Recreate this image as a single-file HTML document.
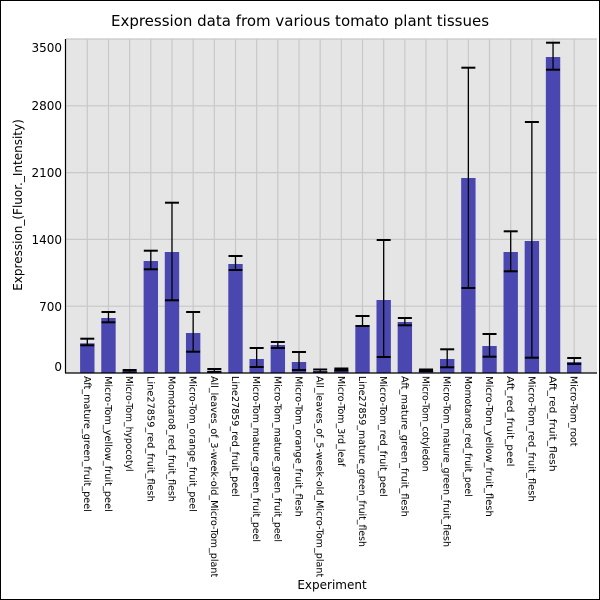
<!DOCTYPE html>
<html><head><style>html,body{margin:0;padding:0;background:#fff}svg{display:block}</style></head>
<body>
<svg width="600" height="600" xmlns="http://www.w3.org/2000/svg" font-family="DejaVu Sans, Liberation Sans, sans-serif">
<rect x="0.5" y="0.5" width="599" height="599" fill="#fff" stroke="#000" stroke-width="1"/>
<text x="300" y="26" font-size="15" text-anchor="middle">Expression data from various tomato plant tissues</text>
<rect x="66" y="39" width="531" height="334" fill="#e5e5e5"/>
<g stroke="#c8c8c8" stroke-width="1.2">
<line x1="66" x2="597" y1="39" y2="39"/><line x1="66" x2="597" y1="105.8" y2="105.8"/><line x1="66" x2="597" y1="172.6" y2="172.6"/><line x1="66" x2="597" y1="239.4" y2="239.4"/><line x1="66" x2="597" y1="306.2" y2="306.2"/>
<g id="vg"></g>
</g>
<g id="bars"></g>
<line x1="65.5" y1="39" x2="65.5" y2="373" stroke="#000" stroke-width="1.2"/>
<line x1="65" y1="373" x2="597" y2="373" stroke="#000" stroke-width="1.2"/>
<g font-size="12" text-anchor="end">
<text x="62" y="52">3500</text><text x="62" y="110">2800</text><text x="62" y="177">2100</text><text x="62" y="244">1400</text><text x="62" y="311">700</text><text x="62" y="371">0</text>
</g>
<text transform="translate(22,205) rotate(-90)" font-size="12" text-anchor="middle">Expression_(Fluor._Intensity)</text>
<text x="332" y="589" font-size="12" text-anchor="middle">Experiment</text>
<g id="labels" font-size="9.5"></g>
<script>
var ns="http://www.w3.org/2000/svg";
var d=[[343.3,338.7,345.3],[318,312,322.3],[371,370,372.5],[261,250.7,269.3],[252,202.7,300.3],[333,312,351.7],[370.7,369,372],[264,256,270],[359,348,367],[345,342,348],[362,352,370],[371,369.5,372.5],[369.5,368.5,370.5],[325,316,326],[300,240,357],[322,318,325.3],[370,369.5,371],[359,349.3,367.3],[178,67.7,288],[346,334,356.7],[252,231.3,271.3],[241,122,357.7],[57,42.7,69.7],[362,358,364]];
var L=["Aft_mature_green_fruit_peel","Micro-Tom_yellow_fruit_peel","Micro-Tom_hypocotyl","Line27859_red_fruit_flesh","Momotaro8_red_fruit_flesh","Micro-Tom_orange_fruit_peel","All_leaves_of_3-week-old_Micro-Tom_plant","Line27859_red_fruit_peel","Micro-Tom_mature_green_fruit_peel","Micro-Tom_mature_green_fruit_peel","Micro-Tom_orange_fruit_flesh","All_leaves_of_5-week-old_Micro-Tom_plant","Micro-Tom_3rd_leaf","Line27859_mature_green_fruit_flesh","Micro-Tom_red_fruit_peel","Aft_mature_green_fruit_flesh","Micro-Tom_cotyledon","Micro-Tom_mature_green_fruit_flesh","Momotaro8_red_fruit_peel","Micro-Tom_yellow_fruit_flesh","Aft_red_fruit_peel","Micro-Tom_red_fruit_flesh","Aft_red_fruit_flesh","Micro-Tom_root"];
function el(t,a,p){var e=document.createElementNS(ns,t);for(var k in a)e.setAttribute(k,a[k]);p.appendChild(e);return e;}
var vg=document.getElementById("vg"),bars=document.getElementById("bars"),lab=document.getElementById("labels");
for(var i=0;i<24;i++){var x=87.3+i*21.17;
el("line",{x1:x,x2:x,y1:39,y2:373},vg);
el("rect",{x:x-7.2,y:d[i][0],width:14.4,height:373-d[i][0],fill:"#4b47b1"},bars);
el("line",{x1:x,x2:x,y1:d[i][1],y2:d[i][2],stroke:"#000","stroke-width":1.3},bars);
el("line",{x1:x-7,x2:x+7,y1:d[i][1],y2:d[i][1],stroke:"#000","stroke-width":2},bars);
el("line",{x1:x-7,x2:x+7,y1:d[i][2],y2:d[i][2],stroke:"#000","stroke-width":2},bars);
var t=el("text",{transform:"translate("+(x-3.5)+",376) rotate(90)",textLength:(L[i].length*5.03).toFixed(1),lengthAdjust:"spacingAndGlyphs"},lab);
t.textContent=L[i];}
</script>
</svg>
</body></html>
